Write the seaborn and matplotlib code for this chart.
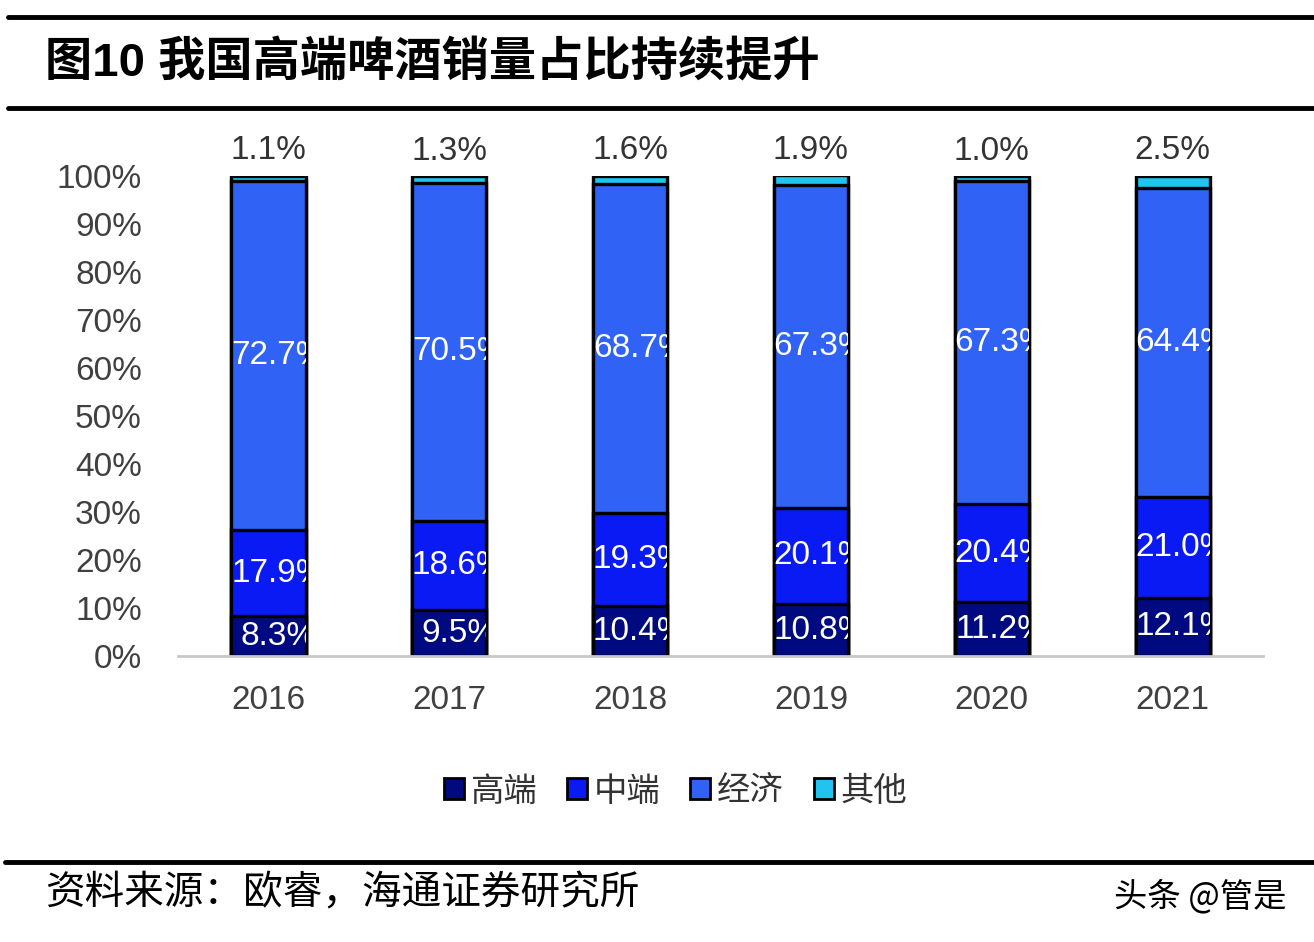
import matplotlib
matplotlib.use("Agg")
import matplotlib.pyplot as plt
import seaborn as sns
import numpy as np
from matplotlib.patches import Patch, Rectangle
from matplotlib.lines import Line2D

# data (share of beer sales volume, %)
years = ["2016", "2017", "2018", "2019", "2020", "2021"]
high_end = [8.3, 9.5, 10.4, 10.8, 11.2, 12.1]
mid_end = [17.9, 18.6, 19.3, 20.1, 20.4, 21.0]
economy = [72.7, 70.5, 68.7, 67.3, 67.3, 64.4]
other = [1.1, 1.3, 1.6, 1.9, 1.0, 2.5]

series_names = ["高端", "中端", "经济", "其他"]
colors = ["#000a80", "#0a1af5", "#2f62f5", "#20c4ee"]

sns.set_style("white")
plt.rcParams["font.family"] = ["Liberation Sans", "Noto Sans CJK SC", "DejaVu Sans"]

fig = plt.figure(figsize=(13.14, 9.42), dpi=100)
ax = fig.add_axes([0.1355, 0.3036, 0.8257, 0.5096])

layers = [np.array(high_end), np.array(mid_end), np.array(economy), np.array(other)]
bottoms = [np.zeros(6)]
for s in layers[:-1]:
    bottoms.append(bottoms[-1] + s)
cums = [b + s for b, s in zip(bottoms, layers)]

# stacked bars: draw cumulative totals from top layer down
for k in range(3, -1, -1):
    sns.barplot(x=years, y=cums[k] / 100, color=colors[k], width=0.41,
                edgecolor="black", linewidth=2.4, saturation=1, ax=ax)

# segment labels (clipped to the bar like the original)
w = 0.41
for k in range(3):
    for i in range(6):
        b = bottoms[k][i] / 100
        h = layers[k][i] / 100
        t = ax.text(i + 0.055, b + h / 2, f"{layers[k][i]:.1f}%", ha="center", va="center",
                    color="white", fontsize=24, clip_on=True)
        clip = Rectangle((i - w / 2, b), w, h, transform=ax.transData)
        t.set_clip_path(clip)

# "other" labels above bars
for i in range(6):
    ax.annotate(f"{other[i]:.1f}%", (i, cums[3][i] / 100), xytext=(0, 7),
                textcoords="offset points", ha="center", va="bottom",
                fontsize=24, color="#333333", annotation_clip=False)

ax.set_xlim(-0.5, 5.5)
ax.set_ylim(0, 1.0)
ax.set_yticks(np.arange(0, 1.01, 0.1))
ax.set_yticklabels([f"{int(v)}%" for v in np.arange(0, 101, 10)])
ax.tick_params(axis="y", length=0, pad=26, labelsize=24, labelcolor="#404040")
ax.tick_params(axis="x", length=0, pad=21, labelsize=24, labelcolor="#404040")
ax.set_xlabel("")
ax.set_ylabel("")
for side in ["top", "right", "left"]:
    ax.spines[side].set_visible(False)
ax.spines["bottom"].set_color("#c8c8c8")
ax.spines["bottom"].set_linewidth(2)

# legend
handles = [Patch(facecolor=c, edgecolor="black", linewidth=2) for c in colors]
fig.legend(handles, series_names, loc="center", bbox_to_anchor=(0.514, 1 - 791 / 942),
           ncol=4, frameon=False, handlelength=0.6, handleheight=0.6,
           handletextpad=0.2, columnspacing=0.9, labelcolor="#333333",
           prop={"family": ["Noto Sans CJK SC"], "size": 24})

# title and frame lines
fig.add_artist(Line2D([8 / 1314, 1], [1 - 17 / 942] * 2, color="black", lw=3.5))
fig.add_artist(Line2D([8 / 1314, 1], [1 - 108 / 942] * 2, color="black", lw=3.5))
fig.add_artist(Line2D([5 / 1314, 1], [1 - 862 / 942] * 2, color="black", lw=3.5))

fig.text(45 / 1314, 1 - 64 / 942, "图10 我国高端啤酒销量占比持续提升", ha="left", va="center",
         fontsize=34, fontweight="bold", color="black",
         family=["Liberation Sans", "Noto Sans CJK SC"])
fig.text(45 / 1314, 1 - 893 / 942, "资料来源：欧睿，海通证券研究所", ha="left", va="center",
         fontsize=28.5, color="black", family=["Noto Sans CJK SC"])
fig.text(1287 / 1314, 1 - 897 / 942, "头条 @管是", ha="right", va="center",
         fontsize=24, color="black", family=["Noto Sans CJK SC"])

plt.savefig("out.png", dpi=100, facecolor="white")
